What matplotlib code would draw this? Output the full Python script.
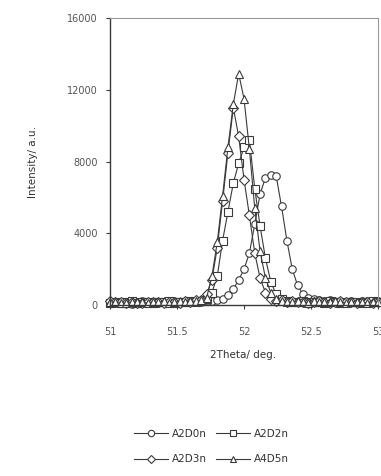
import numpy as np
import matplotlib
matplotlib.use("Agg")
import matplotlib.pyplot as plt

# 2theta scan grid (deg), step 0.04
two_theta = [51.00, 51.04, 51.08, 51.12, 51.16, 51.20, 51.24, 51.28, 51.32, 51.36,
             51.40, 51.44, 51.48, 51.52, 51.56, 51.60, 51.64, 51.68, 51.72, 51.76,
             51.80, 51.84, 51.88, 51.92, 51.96, 52.00, 52.04, 52.08, 52.12, 52.16,
             52.20, 52.24, 52.28, 52.32, 52.36, 52.40, 52.44, 52.48, 52.52, 52.56,
             52.60, 52.64, 52.68, 52.72, 52.76, 52.80, 52.84, 52.88, 52.92, 52.96, 53.00]

a2d0n = [180, 120, 200, 150, 90, 170, 210, 130, 160, 110,
         190, 140, 220, 170, 200, 150, 230, 180, 260, 230,
         280, 350, 550, 900, 1400, 2000, 2900, 4500, 6200, 7100,
         7250, 7200, 5500, 3600, 2000, 1100, 600, 420, 320, 260,
         230, 280, 200, 250, 180, 230, 160, 210, 240, 190, 220]

a2d2n = [140, 190, 110, 170, 210, 120, 160, 190, 100, 180,
         150, 210, 130, 190, 160, 230, 200, 250, 350, 700,
         1600, 3600, 5200, 6800, 7900, 8800, 9200, 6500, 4400, 2600,
         1300, 600, 350, 250, 200, 170, 230, 150, 200, 180,
         140, 210, 170, 120, 200, 150, 190, 130, 170, 210, 160]

a2d3n = [210, 150, 180, 120, 190, 140, 100, 200, 170, 150,
         120, 180, 200, 140, 230, 190, 260, 300, 600, 1400,
         3200, 5800, 8500, 11000, 9400, 7000, 5000, 2900, 1500, 700,
         350, 250, 280, 190, 240, 160, 200, 140, 180, 220,
         160, 130, 190, 210, 150, 180, 120, 200, 160, 140, 190]

a4d5n = [160, 200, 140, 110, 180, 200, 150, 120, 190, 160,
         210, 130, 170, 210, 180, 240, 210, 280, 400, 1600,
         3500, 6100, 8800, 11200, 12900, 11500, 8700, 5400, 3000, 1500,
         700, 350, 250, 200, 160, 220, 180, 130, 210, 160,
         190, 150, 230, 170, 140, 200, 180, 160, 130, 200, 170]

labels = ["A2D0n", "A2D2n", "A2D3n", "A4D5n"]
markers = ["o", "s", "D", "^"]
series = [a2d0n, a2d2n, a2d3n, a4d5n]

ink = "#3a3a3a"
txt = "#555555"

fig = plt.figure(figsize=(3.81, 4.76), dpi=100)
ax = fig.add_axes([0.289, 0.359, 0.703, 0.603])

lines = {}
for y, lab, m in zip(series, labels, markers):
    ms = 4.6 if m == "D" else 5.4
    ln, = ax.plot(two_theta, y, color=ink, lw=0.8, marker=m, ms=ms,
                  mfc="white", mec=ink, mew=0.8, label=lab, clip_on=False)
    lines[lab] = ln

ax.set_xlim(51, 53)
ax.set_ylim(0, 16000)
ax.set_xticks([51, 51.5, 52, 52.5, 53])
ax.set_xticklabels(["51", "51.5", "52", "52.5", "53"])
ax.set_yticks([0, 4000, 8000, 12000, 16000])

for s in ["left", "bottom"]:
    ax.spines[s].set_color(ink)
    ax.spines[s].set_linewidth(1.0)
for s in ["top", "right"]:
    ax.spines[s].set_color("#9a9a9a")
    ax.spines[s].set_linewidth(0.8)

ax.tick_params(axis="x", length=3, pad=13, labelsize=7, colors=txt)
ax.tick_params(axis="y", length=3, pad=6, labelsize=7, colors=txt)
ax.tick_params(color=ink)

ax.set_xlabel("2Theta/ deg.", fontsize=7.5, color="#333333")
ax.xaxis.set_label_coords(0.496, -0.155)
ax.set_ylabel("Intensity/ a.u.", fontsize=7.5, color="#333333")
ax.yaxis.set_label_coords(-0.27, 0.5)

# legend fills column-wise, so order gives rows: A2D0n A2D2n / A2D3n A4D5n
order = ["A2D0n", "A2D3n", "A2D2n", "A4D5n"]
leg = fig.legend([lines[k] for k in order], order, ncol=2, loc="center",
                 bbox_to_anchor=(0.555, 0.062), frameon=False, fontsize=7.5,
                 handlelength=3.3, columnspacing=0.8, handletextpad=0.4,
                 labelspacing=1.5, labelcolor="#333333", markerscale=0.85)

fig.savefig("out.png", dpi=100)
